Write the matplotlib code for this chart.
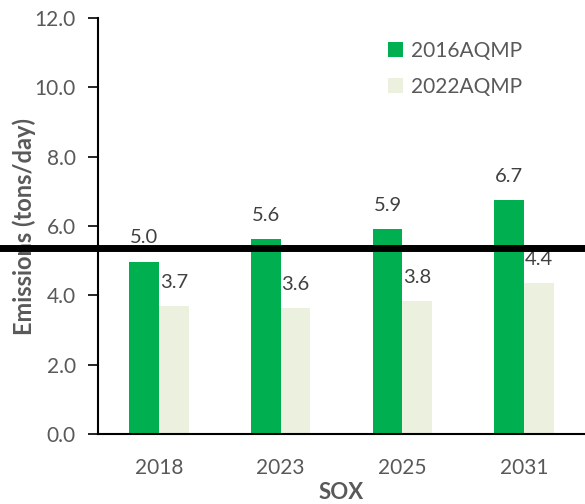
import numpy as np
import matplotlib
matplotlib.use("Agg")
import matplotlib.pyplot as plt

#----------------------------------------------------------------
# Data
years = ["2018", "2023", "2025", "2031"]
aqmp_2016 = [4.97, 5.62, 5.92, 6.74]
aqmp_2022 = [3.69, 3.63, 3.84, 4.36]
reference_level = 5.36
y_ticks = [0, 2, 4, 6, 8, 10, 12]
#----------------------------------------------------------------

plt.rcParams['font.family'] = ['Lato', 'DejaVu Sans']
gray = '#595959'

fig = plt.figure(figsize=(5.85, 5.04), dpi=100)
ax = fig.add_axes([0.1675, 0.139, 0.8325, 0.825])

x = np.arange(len(years))
w = 0.245
b1 = ax.bar(x - w / 2, aqmp_2016, w, color='#00B050', label='2016AQMP')
b2 = ax.bar(x + w / 2, aqmp_2022, w, color='#EBF1DE', label='2022AQMP')

for bars in (b1, b2):
    for r in bars:
        ax.annotate(f"{r.get_height():.1f}", (r.get_x() + r.get_width() / 2, r.get_height()),
                    xytext=(0, 11), textcoords='offset points', ha='center', va='bottom',
                    fontsize=14.5, color='#404040')

# thick black reference line across the whole figure
ax.axhline(reference_level, xmin=-0.21, xmax=1.0, color='black', lw=5, clip_on=False, zorder=5)

ax.set_xlim(-0.5, len(years) - 0.5)
ax.set_ylim(0, 12)
ax.set_yticks(y_ticks)
ax.set_yticklabels([f"{v:.1f}" for v in y_ticks])
ax.set_xticks(x)
ax.set_xticklabels(years)
ax.tick_params(axis='y', labelsize=15, labelcolor=gray, length=7, width=1.2, direction='out', pad=9)
ax.tick_params(axis='x', labelsize=15, labelcolor=gray, length=0, pad=17)

ax.spines['top'].set_visible(False)
ax.spines['right'].set_visible(False)
ax.spines['left'].set_linewidth(1.5)
ax.spines['bottom'].set_linewidth(1.5)

ax.set_ylabel('Emissions (tons/day)', fontsize=17, fontweight='bold', color=gray, labelpad=-1)
ax.set_xlabel('SOX', fontsize=16, fontweight='bold', color=gray, labelpad=3)

ax.legend(loc='upper right', bbox_to_anchor=(0.91, 0.99), frameon=False, fontsize=15,
          handlelength=0.7, handleheight=0.7, handletextpad=0.4, labelcolor=gray, labelspacing=0.75)

fig.savefig('out.png', dpi=100)
